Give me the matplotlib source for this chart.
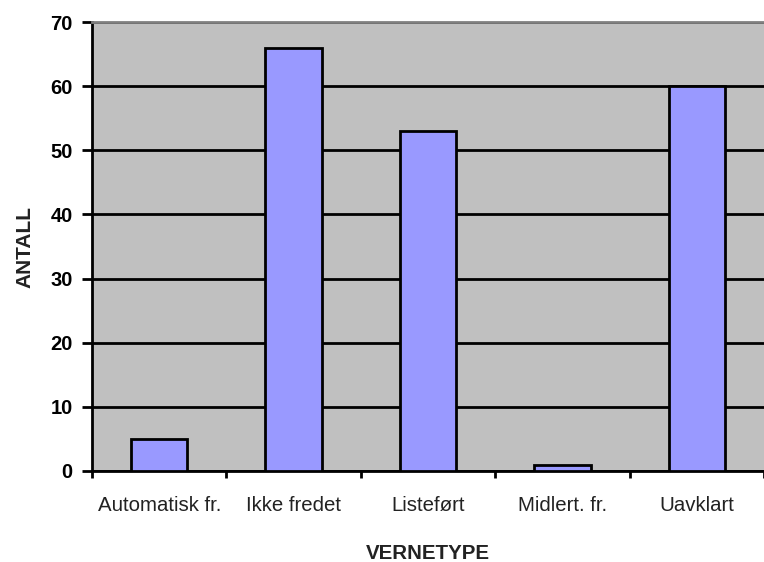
import numpy as np
import matplotlib.pyplot as plt

categories = ["Automatisk fr.", "Ikke fredet", "Listeført", "Midlert. fr.", "Uavklart"]
counts = [5, 66, 53, 1, 60]
y_ticks = [0, 10, 20, 30, 40, 50, 60, 70]

plt.rcParams['font.family'] = ['Liberation Sans', 'DejaVu Sans']

fig = plt.figure(figsize=(7.64, 5.62), dpi=100)
ax = fig.add_axes([92 / 764, 91 / 562, 672 / 764, 449 / 562])
ax.set_facecolor('#C0C0C0')

x = np.arange(len(categories))
ax.bar(x, counts, width=0.42, color='#9999FF', edgecolor='black', linewidth=2, zorder=3)

ax.set_xlim(-0.5, len(categories) - 0.5)
ax.set_ylim(0, 70)
ax.set_yticks(y_ticks)
ax.set_yticklabels([str(v) for v in y_ticks], fontsize=14.5, fontweight='bold')
ax.yaxis.grid(True, color='black', linewidth=2, zorder=1)
ax.set_axisbelow(True)

# category labels centred, ticks at the boundaries
ax.set_xticks(x)
ax.set_xticklabels(categories, fontsize=14.7, color='#222222')
ax.tick_params(axis='x', which='major', length=0, pad=18)
ax.set_xticks(np.arange(-0.5, len(categories)), minor=True)
ax.tick_params(axis='x', which='minor', length=5, width=2, direction='out')
ax.tick_params(axis='y', length=7, width=2, direction='out', pad=7)

ax.spines['left'].set_linewidth(2)
ax.spines['bottom'].set_linewidth(2)
ax.spines['top'].set_color('#808080')
ax.spines['top'].set_linewidth(2)
ax.spines['right'].set_visible(False)

ax.set_xlabel("VERNETYPE", fontsize=14.8, fontweight='bold', labelpad=21, color='#222222')
ax.set_ylabel("ANTALL", fontsize=15, fontweight='bold', labelpad=11, color='#222222')

fig.savefig("out.png", dpi=100)
